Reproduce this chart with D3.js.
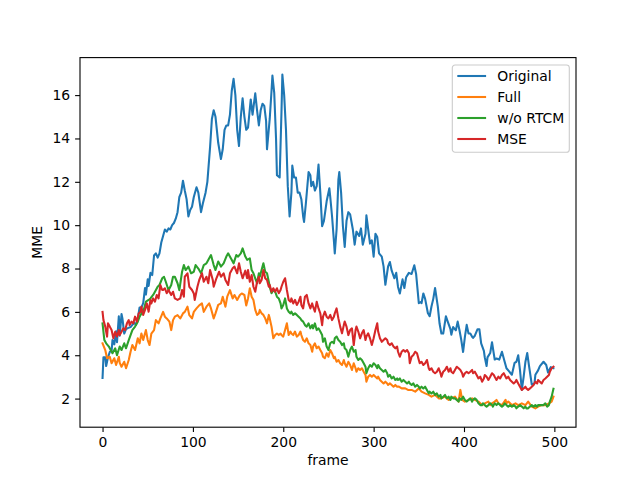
<!DOCTYPE html>
<html>
<head>
<meta charset="utf-8">
<script src="https://cdn.jsdelivr.net/npm/d3@7"></script>
<style>
  body { margin: 0; background: #fff; }
  svg text { font-family: "DejaVu Sans", sans-serif; font-size: 13.9px; fill: #000; }
</style>
</head>
<body>
<div id="chart"></div>
<script>
// series: [frame, MME] pairs
const origData = [[0,2.95],[1,3.9],[3,3.9],[4,3.5],[6,3.9],[8,4.15],[10,4.2],[11,4.7],[13,4.5],[15,5.1],[16,4.6],[18,5.8],[19,4.9],[21,5.9],[22,5.7],[24,5.0],[26,5.2],[28,5.25],[31,5.3],[33,5.4],[35,5.5],[37,5.4],[39,5.7],[41,6.2],[43,6.2],[45,6.4],[47,7.1],[48,6.8],[50,7.5],[51,7.2],[53,7.8],[55,7.7],[57,8.6],[59,8.7],[61,8.5],[63,8.7],[65,9.2],[67,9.5],[69,9.8],[71,9.7],[73,9.85],[75,9.8],[77,10.0],[79,10.1],[81,10.3],[83,10.6],[85,11.3],[87,11.5],[89,12.05],[91,11.6],[93,11.2],[95,10.4],[97,10.7],[99,10.85],[101,11.3],[104,11.75],[106,11.5],[109,10.6],[111,11.0],[114,11.5],[116,12.0],[119,13.6],[121,14.9],[123,15.3],[125,15.0],[128,13.8],[131,13.05],[133,13.5],[135,14.4],[137,14.6],[139,14.6],[141,15.1],[143,16.2],[145,16.75],[147,16.0],[149,14.4],[151,13.65],[153,15.0],[155,15.85],[157,15.0],[159,14.4],[161,14.5],[164,15.8],[166,15.1],[169,16.08],[171,15.3],[173,14.6],[175,15.3],[177,15.6],[179,15.5],[181,14.8],[182,13.5],[185,14.9],[187,16.2],[188,16.9],[190,16.1],[192,14.0],[193,12.3],[196,12.2],[198,15.2],[199,16.95],[201,16.0],[203,14.4],[205,11.8],[207,10.4],[209,11.5],[210,12.75],[212,12.2],[214,12.2],[216,11.5],[218,11.5],[220,11.2],[222,10.4],[223,10.15],[225,11.0],[228,12.45],[230,12.3],[231,11.8],[233,12.0],[235,11.6],[237,11.8],[239,12.8],[241,11.5],[243,9.95],[245,10.2],[248,11.1],[251,11.7],[252,11.3],[254,10.4],[256,9.3],[257,8.7],[259,9.8],[261,12.1],[262,12.45],[264,11.5],[266,9.95],[268,9.0],[270,10.2],[272,10.6],[274,10.5],[277,9.8],[279,9.1],[281,9.7],[284,9.5],[286,9.85],[288,9.1],[291,9.6],[292,10.45],[294,9.8],[296,9.15],[298,9.3],[300,8.55],[302,9.6],[304,9.45],[306,8.7],[309,8.55],[311,8.1],[313,7.25],[316,8.1],[318,8.3],[320,7.9],[323,7.55],[325,7.8],[327,7.15],[329,6.85],[332,7.5],[334,7.1],[336,7.6],[339,7.8],[342,7.75],[345,8.15],[347,7.75],[350,6.4],[352,6.45],[353,6.4],[355,6.85],[357,6.6],[360,5.95],[362,5.8],[364,6.25],[366,6.6],[368,7.1],[371,6.25],[373,5.45],[375,5.0],[377,5.0],[380,5.8],[382,5.55],[385,5.2],[386,4.95],[388,5.3],[391,5.15],[393,5.55],[395,5.15],[397,4.7],[399,4.15],[401,4.85],[403,5.4],[405,5.0],[407,5.0],[409,4.85],[410,4.8],[412,4.9],[415,5.2],[417,5.2],[419,4.55],[422,4.2],[423,3.9],[425,3.5],[426,3.9],[429,4.1],[431,4.6],[434,3.8],[436,3.85],[439,3.8],[442,4.16],[445,3.7],[447,3.4],[449,3.3],[453,3.1],[456,3.65],[458,3.7],[460,4.0],[462,3.3],[464,2.4],[466,3.0],[468,3.7],[470,4.1],[472,3.5],[475,2.65],[478,2.7],[479,3.1],[482,3.3],[484,3.5],[488,3.7],[491,3.55],[493,3.2],[496,3.45],[499,3.4]];

const fullData = [[0,4.55],[3,4.24],[5,3.86],[8,3.93],[10,3.63],[13,3.86],[15,3.55],[18,3.93],[19,3.65],[21,3.47],[24,3.7],[26,3.4],[29,3.78],[31,4.16],[33,4.47],[36,4.24],[39,4.78],[41,4.55],[43,5.0],[45,4.7],[48,5.16],[50,4.7],[52,4.47],[54,5.0],[57,5.16],[59,5.62],[62,5.47],[64,5.7],[67,6.0],[69,5.78],[71,5.7],[74,5.55],[76,5.16],[78,5.62],[80,5.78],[83,5.85],[86,5.7],[89,5.93],[91,6.0],[94,6.24],[96,5.85],[99,5.7],[101,6.0],[104,6.16],[107,6.3],[110,6.39],[112,6.0],[115,6.24],[118,6.39],[120,6.16],[123,5.7],[125,5.93],[128,6.32],[131,6.39],[133,6.7],[136,6.24],[138,6.7],[141,7.0],[144,6.62],[146,6.78],[149,6.55],[152,6.78],[154,6.85],[157,6.78],[159,6.3],[161,6.62],[163,7.09],[165,6.7],[167,6.55],[169,6.09],[171,5.86],[173,5.93],[174,6.09],[176,5.93],[178,5.86],[180,5.7],[182,5.47],[184,5.86],[185,5.7],[187,5.32],[189,4.78],[191,4.93],[193,5.0],[195,4.93],[197,5.0],[198,4.93],[200,4.86],[202,5.16],[204,5.47],[206,4.93],[208,5.09],[209,5.0],[211,4.93],[213,5.09],[215,4.86],[217,4.93],[219,5.09],[220,4.93],[222,4.7],[224,4.62],[226,4.78],[228,4.55],[230,4.47],[232,4.16],[233,4.4],[235,4.55],[237,4.32],[239,4.4],[241,4.24],[243,4.09],[244,3.93],[246,3.86],[248,4.09],[250,3.93],[252,4.24],[254,4.09],[256,3.86],[257,3.93],[259,3.7],[261,3.78],[263,3.63],[265,3.55],[267,3.78],[268,3.63],[270,3.47],[272,3.7],[274,3.55],[276,3.32],[278,3.63],[280,3.4],[281,3.24],[283,3.4],[285,3.32],[287,3.4],[289,3.24],[291,3.09],[292,2.78],[294,3.01],[296,3.09],[298,3.01],[300,3.09],[302,3.01],[304,2.93],[305,3.01],[307,2.86],[309,2.78],[311,2.7],[313,2.78],[315,2.7],[316,2.63],[318,2.7],[320,2.63],[322,2.55],[324,2.63],[326,2.55],[328,2.55],[331,2.47],[335,2.47],[338,2.4],[342,2.4],[346,2.32],[350,2.47],[353,2.32],[357,2.24],[361,2.17],[364,2.09],[368,2.17],[372,2.01],[375,2.01],[379,2.09],[383,1.94],[386,2.01],[390,2.09],[394,1.86],[396,2.4],[398,1.94],[401,1.86],[405,1.94],[409,2.01],[412,1.94],[416,1.86],[420,1.7],[423,1.78],[427,1.86],[429,1.7],[431,1.78],[434,1.86],[436,1.94],[438,1.78],[442,1.7],[446,1.94],[447,1.78],[449,1.86],[453,1.7],[457,1.78],[460,1.7],[464,1.78],[468,1.7],[471,1.86],[475,1.63],[479,1.55],[482,1.63],[486,1.7],[490,1.7],[494,1.78],[497,1.86],[499,2.09]];

const noRtcmData = [[0,5.47],[2,4.7],[4,4.55],[7,4.4],[9,4.24],[11,4.09],[14,4.32],[16,4.0],[19,4.4],[21,4.24],[24,4.55],[26,4.32],[29,4.7],[31,4.93],[33,5.16],[36,5.32],[39,5.55],[41,5.78],[43,5.93],[46,6.16],[48,6.47],[51,6.55],[53,6.62],[56,6.78],[58,6.93],[61,7.16],[63,7.24],[66,7.55],[68,7.62],[70,7.39],[73,7.0],[76,7.24],[78,7.62],[80,7.62],[83,7.32],[85,7.0],[88,7.85],[90,8.16],[92,7.93],[95,8.09],[98,7.78],[101,7.85],[103,8.16],[106,8.0],[109,7.78],[112,8.16],[115,8.24],[117,8.39],[120,8.62],[123,8.16],[125,7.93],[128,8.32],[131,8.09],[134,8.24],[137,8.55],[139,8.7],[142,8.47],[145,8.24],[148,8.62],[150,8.55],[153,8.7],[155,8.93],[158,8.55],[160,8.4],[163,8.47],[165,7.93],[167,7.78],[169,7.55],[171,7.32],[173,7.78],[174,7.62],[176,7.93],[178,8.24],[180,7.85],[182,7.78],[184,7.39],[185,7.16],[187,6.86],[189,7.01],[191,6.93],[193,6.7],[195,6.62],[197,6.39],[198,6.16],[200,6.32],[202,6.62],[204,6.16],[206,6.01],[208,5.93],[209,6.01],[211,5.86],[213,5.93],[215,5.86],[217,5.78],[219,5.7],[220,5.62],[222,5.55],[224,5.39],[226,5.32],[228,5.47],[230,5.24],[232,5.39],[233,5.24],[235,5.47],[237,5.16],[239,5.24],[241,5.09],[243,4.93],[244,4.62],[246,4.78],[248,4.4],[250,4.24],[252,4.55],[254,4.62],[256,4.55],[257,4.78],[259,4.86],[261,4.7],[263,4.62],[265,4.47],[267,4.55],[268,4.32],[270,4.24],[272,3.93],[274,4.24],[276,4.4],[278,4.16],[280,4.24],[281,3.93],[283,3.78],[285,3.86],[287,3.78],[289,3.63],[291,3.47],[292,3.17],[294,3.4],[296,3.55],[298,3.47],[300,3.63],[302,3.55],[304,3.4],[305,3.55],[307,3.4],[309,3.32],[311,3.24],[313,3.32],[315,3.17],[316,3.01],[318,3.09],[320,2.93],[322,3.01],[324,2.86],[326,2.93],[327,2.86],[329,2.93],[331,2.78],[333,2.86],[335,2.78],[337,2.7],[339,2.78],[340,2.7],[342,2.63],[344,2.7],[346,2.55],[348,2.63],[350,2.55],[351,2.47],[353,2.55],[355,2.47],[357,2.55],[359,2.4],[361,2.24],[362,2.32],[364,2.24],[366,2.32],[368,2.17],[370,2.24],[372,2.09],[374,2.17],[375,2.01],[377,2.09],[379,2.17],[381,2.01],[383,2.09],[385,1.94],[386,2.09],[388,2.01],[390,2.01],[392,1.94],[394,1.86],[395,2.01],[397,1.94],[399,2.09],[401,1.94],[403,1.86],[405,1.94],[407,2.01],[409,1.86],[410,1.94],[412,2.01],[414,1.94],[416,1.78],[418,1.7],[420,1.7],[421,1.78],[423,1.7],[425,1.63],[427,1.7],[429,1.78],[431,1.7],[432,1.63],[434,1.78],[436,1.7],[438,1.78],[440,1.7],[442,1.63],[444,1.7],[445,1.78],[447,1.7],[449,1.63],[451,1.7],[453,1.63],[455,1.7],[457,1.63],[458,1.55],[460,1.63],[462,1.7],[464,1.63],[466,1.55],[468,1.63],[469,1.55],[471,1.55],[473,1.63],[475,1.7],[477,1.63],[479,1.7],[481,1.63],[482,1.7],[484,1.7],[486,1.7],[488,1.7],[490,1.78],[492,1.63],[494,1.7],[495,1.86],[497,2.09],[499,2.45]];

const mseData = [[0,6.0],[1,5.62],[3,5.32],[5,4.86],[6,5.47],[8,5.32],[10,5.16],[12,4.78],[14,5.08],[16,4.86],[18,5.16],[19,4.93],[21,5.08],[23,5.24],[25,5.16],[27,5.47],[29,5.62],[30,5.39],[32,5.55],[34,5.47],[36,5.78],[38,5.55],[40,5.93],[42,6.01],[43,6.24],[45,5.86],[47,6.09],[49,6.39],[51,6.01],[53,6.55],[54,6.39],[56,6.62],[58,6.47],[60,6.78],[62,6.62],[64,7.24],[66,7.01],[67,7.01],[69,7.09],[71,6.86],[73,7.01],[76,6.78],[78,6.93],[80,6.62],[83,6.55],[86,6.62],[88,7.01],[90,6.7],[91,7.62],[94,7.78],[96,7.16],[99,7.01],[101,6.85],[102,6.55],[105,7.16],[107,7.47],[110,7.78],[112,7.39],[115,7.62],[117,7.32],[119,7.93],[122,7.47],[123,7.16],[126,7.55],[129,7.85],[131,7.62],[134,7.78],[136,7.47],[139,7.24],[141,7.78],[144,8.01],[146,8.09],[149,7.78],[151,8.24],[153,7.85],[155,7.55],[158,7.9],[160,7.55],[161,7.93],[163,7.39],[165,7.7],[167,7.16],[169,6.93],[171,7.39],[173,7.62],[174,7.32],[176,7.47],[178,7.93],[180,7.55],[182,7.47],[184,7.16],[185,7.24],[187,6.93],[189,7.09],[191,6.93],[193,7.09],[195,6.86],[197,7.01],[198,7.16],[200,7.39],[202,7.55],[204,7.01],[206,6.55],[208,6.47],[209,6.62],[211,6.39],[213,6.55],[215,6.32],[217,6.47],[219,6.7],[220,6.32],[222,6.16],[224,6.7],[226,6.78],[228,6.39],[230,6.16],[232,6.39],[233,6.24],[235,6.01],[237,6.47],[239,6.16],[241,5.93],[243,5.39],[244,5.78],[246,6.01],[248,5.78],[250,5.7],[252,5.86],[254,5.62],[256,5.78],[257,5.93],[259,6.16],[261,5.7],[263,5.32],[265,5.01],[267,5.39],[268,5.55],[270,5.32],[272,4.93],[274,5.16],[276,5.24],[278,4.47],[280,5.16],[281,5.32],[283,5.09],[285,4.78],[287,5.01],[289,5.16],[291,4.7],[292,4.86],[294,5.01],[296,4.78],[298,4.47],[300,4.78],[302,5.16],[304,5.47],[305,5.09],[307,4.78],[309,4.62],[311,4.7],[313,4.78],[315,4.7],[316,4.55],[318,4.47],[320,4.55],[322,4.4],[324,4.32],[326,4.4],[327,4.16],[329,3.93],[331,4.16],[333,4.24],[335,4.16],[337,4.24],[339,4.09],[340,3.63],[342,3.93],[344,4.01],[346,4.16],[348,4.09],[350,3.78],[351,3.63],[353,3.7],[355,3.55],[357,3.63],[359,3.78],[361,3.4],[362,3.32],[364,3.4],[366,3.24],[368,3.17],[370,3.24],[372,3.4],[374,3.17],[375,3.01],[377,3.24],[379,3.32],[381,3.47],[383,3.24],[385,3.4],[386,3.24],[388,3.17],[390,3.32],[392,3.47],[394,3.4],[396,3.32],[398,3.17],[399,3.01],[401,3.17],[403,3.24],[405,3.17],[407,3.24],[409,3.32],[410,3.17],[412,3.24],[414,3.09],[416,2.93],[418,3.01],[420,2.78],[422,2.93],[423,3.09],[425,3.01],[427,2.86],[429,3.01],[431,3.17],[433,3.09],[434,3.01],[436,2.86],[438,3.01],[440,2.93],[442,3.09],[444,3.17],[445,3.09],[447,2.93],[449,3.01],[451,2.86],[453,2.78],[455,2.7],[457,2.78],[458,2.86],[460,2.7],[462,2.55],[464,2.4],[466,2.47],[468,2.55],[469,2.47],[471,2.4],[473,2.47],[475,2.55],[477,2.63],[479,2.78],[481,2.7],[482,2.86],[484,2.78],[486,2.7],[488,2.86],[490,2.93],[492,3.01],[494,3.09],[495,3.24],[497,3.4],[499,3.47]];

const seriesNames = ["Original", "Full", "w/o RTCM", "MSE"];
const seriesColors = ["#1f77b4", "#ff7f0e", "#2ca02c", "#d62728"];
const xTicks = [0, 100, 200, 300, 400, 500];
const yTicks = [2, 4, 6, 8, 10, 12, 14, 16];

// matplotlib default axes box in a 640x480 figure
const width = 640, height = 480;
const margin = {top: 57.6, right: 64, bottom: 52.8, left: 80};
const plotW = width - margin.left - margin.right,
      plotH = height - margin.top - margin.bottom;

const allSeries = [origData, fullData, noRtcmData, mseData];

const x = d3.scaleLinear().domain([-24.95, 523.95]).range([0, plotW]);
const y = d3.scaleLinear().domain([0.68, 17.73]).range([plotH, 0]);

const svg = d3.select("#chart").append("svg")
    .attr("width", width)
    .attr("height", height);

const g = svg.append("g")
    .attr("transform", "translate(" + margin.left + "," + margin.top + ")");

// lines
const line = d3.line()
    .x(d => x(d[0]))
    .y(d => y(d[1]));

allSeries.forEach((data, i) => {
    g.append("path")
        .datum(data)
        .attr("fill", "none")
        .attr("stroke", seriesColors[i])
        .attr("stroke-width", 2.08)
        .attr("stroke-linejoin", "round")
        .attr("stroke-linecap", "square")
        .attr("d", line);
});

// axes
const xAxis = g.append("g")
    .attr("transform", "translate(0," + plotH + ")")
    .call(d3.axisBottom(x).tickValues(xTicks).tickSize(4.9).tickPadding(4.9).tickFormat(d3.format("d")));

const yAxis = g.append("g")
    .call(d3.axisLeft(y).tickValues(yTicks).tickSize(4.9).tickPadding(4.9).tickFormat(d3.format("d")));

[xAxis, yAxis].forEach(ax => {
    ax.select(".domain").remove();
    ax.selectAll(".tick line").attr("stroke", "#000").attr("stroke-width", 1.1);
    ax.selectAll(".tick text")
        .style("font-family", "DejaVu Sans")
        .style("font-size", "13.9px")
        .attr("fill", "#000");
});

// frame
g.append("rect")
    .attr("x", 0).attr("y", 0)
    .attr("width", plotW).attr("height", plotH)
    .attr("fill", "none")
    .attr("stroke", "#000")
    .attr("stroke-width", 1.1);

// axis labels
g.append("text")
    .attr("x", plotW / 2)
    .attr("y", plotH + 38)
    .attr("text-anchor", "middle")
    .text("frame");

g.append("text")
    .attr("transform", "translate(" + (-38) + "," + (plotH / 2) + ") rotate(-90)")
    .attr("text-anchor", "middle")
    .text("MME");

// legend, upper right
const legend = g.append("g")
    .attr("transform", "translate(" + (plotW - 123.7) + "," + 7.4 + ")");

legend.append("rect")
    .attr("width", 117)
    .attr("height", 87.3)
    .attr("rx", 2.8)
    .attr("fill", "#fff")
    .attr("fill-opacity", 0.8)
    .attr("stroke", "#cccccc")
    .attr("stroke-width", 1.1);

seriesNames.forEach((name, i) => {
    const rowY = 11 + i * 21;
    legend.append("line")
        .attr("x1", 5).attr("x2", 33.8)
        .attr("y1", rowY).attr("y2", rowY)
        .attr("stroke", seriesColors[i])
        .attr("stroke-width", 2.08);
    legend.append("text")
        .attr("x", 45)
        .attr("y", rowY + 5)
        .text(name);
});
</script>
</body>
</html>
